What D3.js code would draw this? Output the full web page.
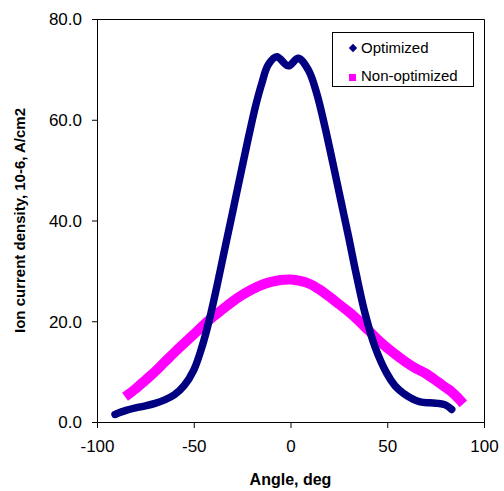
<!DOCTYPE html>
<html>
  <head>
    <meta charset="utf-8">
    <title>Ion current density</title>
    <script type="text/javascript" src="https://d3js.org/d3.v7.min.js"></script>
    <style type="text/css">
      body { margin: 0; background: #fff; }
      svg { font-family: Arial, "Liberation Sans", sans-serif; }
    </style>
  </head>
  <body>
    <script type="text/javascript">
    // Optimized series
    var angleOpt = [-90.7, -85, -80, -75, -70, -65, -60, -55, -50, -46, -42, -38, -34, -30,
                    -26, -22, -18, -15, -11.5, -7.1, -1.1, 4, 9.2, 13.5, 17.8, 22, 26, 30,
                    34, 38.5, 43.7, 49.7, 54, 58.3, 63, 67, 72, 76, 80, 83.3];
    var currentOpt = [1.5, 2.3, 2.8, 3.2, 3.7, 4.4, 5.4, 7.2, 10.3, 14.6, 20.2, 27.0, 34.3, 41.5,
                      48.8, 56.0, 62.8, 67.0, 70.9, 72.5, 70.7, 72.2, 69.9, 65.3, 58.6, 51.2, 44.0, 36.8,
                      29.3, 21.6, 14.9, 9.7, 7.2, 5.7, 4.6, 4.0, 3.8, 3.7, 3.4, 2.5];

    // Non-optimized series
    var angleNon = [-85.5, -80, -75, -70, -65, -60, -55, -50, -45, -40, -35, -30, -25, -20, -15,
                    -10, -5, 0, 5, 10, 15, 20, 25, 30, 35, 40, 45, 50, 55, 60, 65, 70, 76, 80,
                    83, 86, 89.3];
    var currentNon = [5.0, 6.6, 8.3, 10.0, 11.9, 13.8, 15.6, 17.4, 19.2, 20.9, 22.4, 23.9, 25.2, 26.3, 27.2,
                      27.8, 28.2, 28.3, 28.0, 27.4, 26.3, 24.9, 23.4, 21.9, 20.2, 18.3, 16.4, 14.7, 13.2, 11.8,
                      10.6, 9.6, 8.0, 6.9, 6.1, 5.0, 3.6];

    var xTicks = [-100, -50, 0, 50, 100];
    var yTicks = [0, 20, 40, 60, 80];
    var seriesNames = ["Optimized", "Non-optimized"];

    var width = 504, height = 491;
    var pLeft = 97, pRight = 484, pTop = 19, pBottom = 422;

    var svg = d3.select("body")
                .append("svg")
                .attr("width", width)
                .attr("height", height);

    var xScale = d3.scaleLinear()
                   .domain([-100, 100])
                   .range([pLeft, pRight]);

    var yScale = d3.scaleLinear()
                   .domain([0, 80])
                   .range([pBottom, pTop]);

    // plot frame (top and right)
    svg.append("path")
       .attr("d", "M" + pLeft + "," + (pTop + 0.5) + "H" + (pRight + 0.5) + "V" + pBottom)
       .attr("fill", "none")
       .attr("stroke", "#000")
       .attr("stroke-width", 1);

    var xAxis = d3.axisBottom(xScale).tickValues(xTicks).tickSize(6).tickPadding(12)
                  .tickFormat(function(d) { return String(d); });
    var yAxis = d3.axisLeft(yScale).tickValues(yTicks).tickSize(5).tickPadding(10)
                  .tickFormat(function(d) { return d.toFixed(1); });

    var gx = svg.append("g")
       .attr("transform", "translate(0," + pBottom + ")")
       .call(xAxis);
    var gy = svg.append("g")
       .attr("transform", "translate(" + pLeft + ",0)")
       .call(yAxis);

    [gx, gy].forEach(function(g) {
      g.selectAll("text")
       .style("font-size", "17px")
       .style("font-family", "Arial, 'Liberation Sans', sans-serif")
       .attr("fill", "#000");
      g.selectAll("line, path").attr("stroke", "#000");
    });
    gy.selectAll("text").attr("dy", "0.35em");
    gx.selectAll("text").attr("dy", "0.71em");

    // curves
    var line = d3.line()
                 .x(function(d) { return xScale(d[0]); })
                 .y(function(d) { return yScale(d[1]); })
                 .curve(d3.curveCatmullRom.alpha(0.5));

    var nonData = angleNon.map(function(a, i) { return [a, currentNon[i]]; });
    var optData = angleOpt.map(function(a, i) { return [a, currentOpt[i]]; });

    svg.append("path")
       .attr("d", line(nonData))
       .attr("fill", "none")
       .attr("stroke", "#FF00FF")
       .attr("stroke-width", 10)
       .attr("stroke-linecap", "butt")
       .attr("stroke-linejoin", "round");

    svg.append("path")
       .attr("d", line(optData))
       .attr("fill", "none")
       .attr("stroke", "#000080")
       .attr("stroke-width", 7.5)
       .attr("stroke-linecap", "round")
       .attr("stroke-linejoin", "round");

    // axis titles
    svg.append("text")
       .attr("x", (pLeft + pRight) / 2)
       .attr("y", 485)
       .attr("text-anchor", "middle")
       .style("font-size", "16px")
       .style("font-weight", "bold")
       .text("Angle, deg");

    svg.append("text")
       .attr("transform", "translate(25," + ((pTop + pBottom) / 2) + ") rotate(-90)")
       .attr("text-anchor", "middle")
       .style("font-size", "15px")
       .style("font-weight", "bold")
       .text("Ion current density, 10-6, A/cm2");

    // legend
    var legend = svg.append("g");
    legend.append("rect")
          .attr("x", 332.5).attr("y", 32.5)
          .attr("width", 141).attr("height", 54)
          .attr("fill", "#fff")
          .attr("stroke", "#000")
          .attr("stroke-width", 1);

    legend.append("path")
          .attr("d", d3.symbol().type(d3.symbolDiamond2).size(45)())
          .attr("transform", "translate(353,48)")
          .attr("fill", "#000080");
    legend.append("rect")
          .attr("x", 349).attr("y", 74)
          .attr("width", 7).attr("height", 7)
          .attr("fill", "#FF00FF");

    legend.selectAll("text.lg")
          .data(seriesNames)
          .enter()
          .append("text")
          .attr("class", "lg")
          .attr("x", 361)
          .attr("y", function(d, i) { return 53 + i * 28; })
          .style("font-size", "15px")
          .text(function(d) { return d; });
    </script>
  </body>
</html>
